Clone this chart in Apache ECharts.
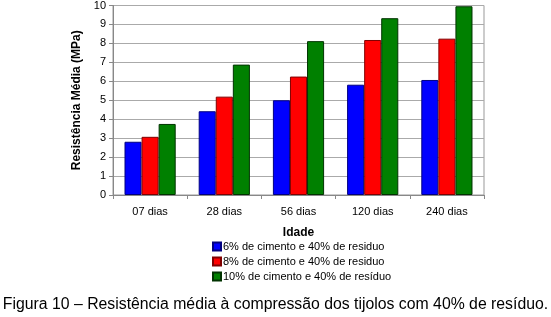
<!DOCTYPE html>
<html>
<head>
<meta charset="utf-8">
<script src="https://cdn.jsdelivr.net/npm/echarts@6/dist/echarts.min.js"></script>
<style>
  html, body { margin: 0; padding: 0; background: #fff; }
  #chart { width: 551px; height: 317px; }
</style>
</head>
<body>
<div id="chart"></div>
<script>
// dados
const idades = ['07 dias', '28 dias', '56 dias', '120 dias', '240 dias']
const cimento6 = [2.81, 4.42, 5.0, 5.82, 6.07]
const cimento8 = [3.07, 5.19, 6.25, 8.18, 8.25]
const cimento10 = [3.75, 6.88, 8.12, 9.33, 9.96]
const nomes = [
  '6% de cimento e 40% de residuo',
  '8% de cimento e 40% de residuo',
  '10% de cimento e 40% de resíduo'
]

const fonte = 'Liberation Sans, Arial, sans-serif'
let myChart = echarts.init(document.getElementById('chart'))

function serie(nome, dados, cor, borda) {
  return {
    name: nome,
    type: 'bar',
    data: dados,
    barGap: '0%',
    barCategoryGap: '31%',
    itemStyle: { color: cor, borderColor: borda, borderWidth: 1 },
    animation: false
  }
}

myChart.setOption({
  animation: false,
  textStyle: { fontFamily: fonte },
  title: {
    text: 'Figura 10 – Resistência média à compressão dos tijolos com 40% de resíduo.',
    left: 'center',
    top: 297,
    padding: 0,
    textStyle: { fontFamily: fonte, fontSize: 15.8, fontWeight: 'normal', color: '#000' }
  },
  grid: {
    left: 113, right: 67, top: 5, bottom: 122,
    show: true, borderColor: '#999', borderWidth: 1
  },
  legend: {
    orient: 'vertical',
    left: 212,
    top: 241,
    padding: 0,
    itemWidth: 8,
    itemHeight: 8,
    itemGap: 4,
    icon: 'rect',
    textStyle: { fontFamily: fonte, fontSize: 11, color: '#000', padding: [0, 0, 0, -3] },
    data: nomes
  },
  xAxis: {
    type: 'category',
    data: idades,
    name: 'Idade',
    nameLocation: 'middle',
    nameGap: 32,
    nameTextStyle: { fontFamily: fonte, fontSize: 12, fontWeight: 'bold', color: '#000' },
    axisLine: { lineStyle: { color: '#888' } },
    axisTick: { show: true, length: 4, lineStyle: { color: '#888' } },
    axisLabel: { fontFamily: fonte, fontSize: 11, color: '#000', margin: 11 }
  },
  yAxis: {
    type: 'value',
    min: 0,
    max: 10,
    interval: 1,
    name: 'Resistência Média (MPa)',
    nameLocation: 'middle',
    nameGap: 25,
    nameTextStyle: { fontFamily: fonte, fontSize: 12, fontWeight: 'bold', color: '#000' },
    axisLine: { show: true, lineStyle: { color: '#888' } },
    axisTick: { show: true, length: 4, lineStyle: { color: '#888' } },
    axisLabel: { fontFamily: fonte, fontSize: 11, color: '#000', margin: 7 },
    splitLine: { lineStyle: { color: '#aaa' } }
  },
  series: [
    serie(nomes[0], cimento6, '#0000ff', '#000080'),
    serie(nomes[1], cimento8, '#ff0000', '#800000'),
    serie(nomes[2], cimento10, '#008000', '#003300')
  ]
})
</script>
</body>
</html>
